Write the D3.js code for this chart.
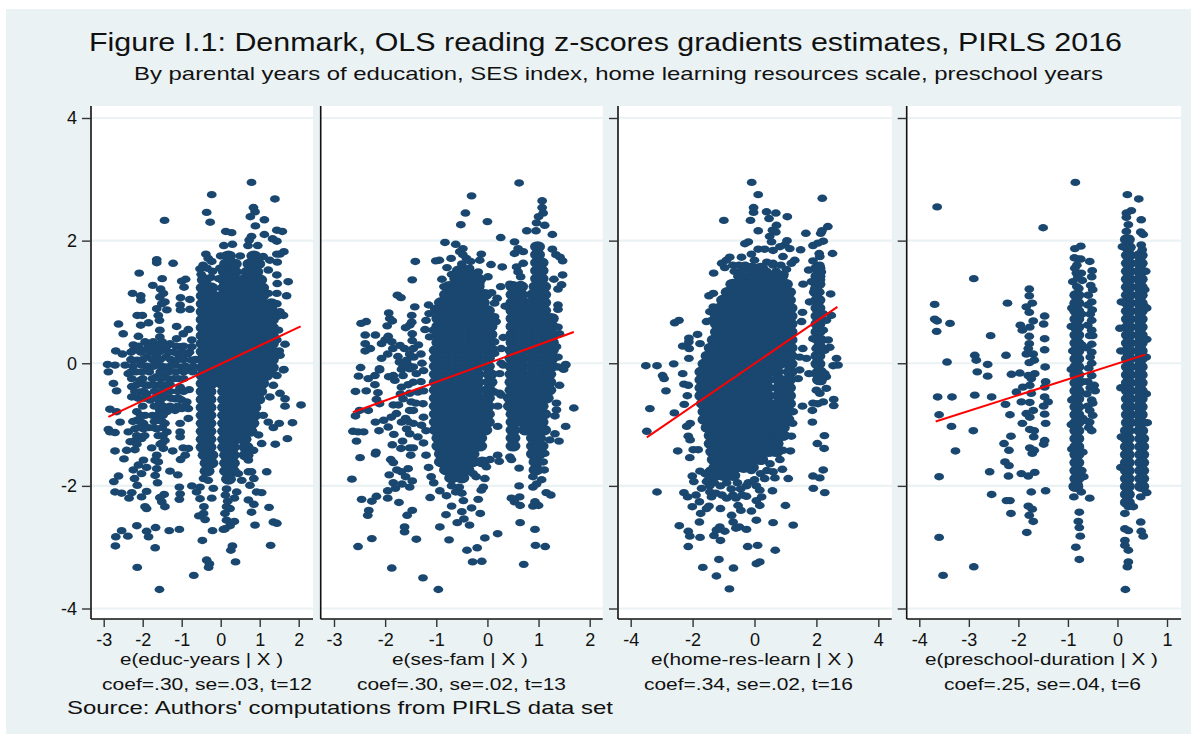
<!DOCTYPE html>
<html>
<head>
<meta charset="utf-8">
<script src="https://cdn.jsdelivr.net/npm/d3@7"></script>
<style>
  html, body { margin: 0; padding: 0; background: white; }
  text { font-family: "Liberation Sans", Arial, sans-serif; fill: #111; }
</style>
</head>
<body>
<div id="viz"></div>
<script>
// values: [x, y] for single dots
const educDots = [[.79,2.95],[-.23,2.75],[1.39,2.68],[.84,2.54],[.88,2.47],[.76,2.39],[-.36,2.46],[-.27,2.3],[-1.44,2.33],[1.12,2.34],[.89,2.24],[.13,2.15],[.28,2.13],[1.44,2.17],[1.58,2.15],[1.12,2.1],[1.33,2.03],[1.44,1.99],[.79,2.07],[.73,2.01],[.08,1.92],[.3,1.94],[.7,1.92],[.95,1.92],[-.38,1.78],[-.32,1.71],[-1.64,1.69],[-1.64,1.64],[-1.22,1.63],[-.23,1.66],[1.45,1.65],[1.09,1.74],[1.26,1.68],[-.53,1.54],[-.21,1.5],[-2.09,1.47],[-1.5,1.38],[-1,1.34],[-.9,1.37],[-.94,1.24],[-1.74,1.27],[-1.54,1.21],[-2.26,1.14],[-2.05,1.1],[-2.05,1.03],[-1.47,1.14],[-1.56,1.08],[-1.43,1],[-1.51,.97],[-1.03,1.07],[-.79,1.04],[-1.04,.95],[-.79,.88],[-1.03,.87],[-1.38,.87],[-1.64,.89],[-2.14,.78],[-2.01,.78],[-1.6,.78],[-1.57,.7],[-2.62,.64],[-2.05,.62],[-1.85,.66],[-2.5,.48],[-1.13,.6],[-.83,.55],[-.96,.48],[-1.56,.54],[-2.11,.44],[-1.56,.43],[-.74,.38],[-1.13,.4],[-1.94,.35],[-2.24,.3],[-1.73,.35],[-1.5,.35],[-1.3,.32],[-1.04,.27],[-.74,.27],[-2.69,.2],[-2.52,.15],[-2.24,.21],[-1.98,.21],[-1.73,.24],[-1.5,.21],[-1.09,.15],[-2.15,.05],[-1.9,.1],[-1.65,.12],[-1.4,.1],[-.85,.15],[-.75,.05],
[-2.9,-.02],[-2.88,-.14],[-2.71,-.03],[-2.45,-.03],[-2.37,-.17],[-2.75,-.33],[-2.67,-.45],[-2.28,-.38],[-2.28,-.55],[-2.17,-.14],[-2.03,-.03],[-1.81,-.06],[-1.64,-.03],[-1.43,-.06],[-1.17,-.03],[-1,-.06],[-.83,-.11],[-2.07,-.28],[-1.85,-.36],[-1.64,-.22],[-1.47,-.19],[-1.6,-.36],[-1.43,-.36],[-1.09,-.25],[-1.04,-.39],[-.81,-.43],[-2.07,-.47],[-1.9,-.5],[-1.56,-.5],[-1.43,-.55],[-1.81,-.6],[-1.56,-.63],[-1.17,-.58],[-1,-.6],[-.87,-.63],[-2.84,-.75],[-2.67,-.79],[-2.58,-.96],[-2.15,-.79],[-1.94,-.85],[-1.56,-.77],[-1.38,-.79],[-1.17,-.77],[-1,-.74],[-.83,-.74],[-.83,-.9],[-2.15,-.93],[-1.98,-.98],[-1.56,-.93],[-1.43,-.98],[-1.04,-.98],[-2.88,-1.08],[-2.84,-1.12],[-2.71,-1.13],[-2.37,-1.12],[-2.2,-1.07],[-1.98,-1.07],[-1.64,-1.07],[-1.38,-1.12],[-1.04,-1.12],[-1.04,-1.2],[-2.03,-1.23],[-2.2,-1.26],[-2.32,-1.28],[-1.43,-1.26],[-2.71,-1.43],[-2.41,-1.42],[-2.2,-1.41],[-2.48,-1.56],[-1.77,-1.38],[-1.47,-1.39],[-1.23,-1.43],[-.96,-1.38],[-.83,-1.39],[-.91,-1.5],[-1.03,-1.57],[-1.64,-1.5],[-1.68,-1.58],[-1.6,-1.61],[-1.98,-1.58],[-2.11,-1.66],[-2.24,-1.74],[-1.9,-1.7],[-1.64,-1.72],[-2.62,-1.84],[-2.74,-1.93],[-2.21,-1.88],[-2.14,-1.99],[-2.03,-1.8],[-1.68,-1.83],[-1.62,-1.95],[-1.3,-1.76],[-1.1,-1.82],[-.74,-2],[-1.06,-2.02],[-2.71,-2.1],[-2.54,-2.12],[-2.28,-2.11],[-2.35,-2.2],[-2.03,-2.18],[-1.9,-2.09],[-1.45,-2.14],[-1.56,-2.19],[-1.51,-2.26],[-1.04,-2.13],[-1.06,-2.22],[-1.43,-2.34],[-1.9,-2.37],[-1.94,-2.34],[-.44,-1.88],[-.32,-1.91],[-.53,-2.02],[-.19,-2.04],[-.62,-2.1],[-.53,-2.21],[-.23,-2.2],[-.43,-2.34],[-.44,-2.45],[-.56,-2.49],[-.4,-2.55],[.54,-1.91],[.75,-1.99],[.92,-2.1],[1.05,-2.11],[.41,-2.1],[.35,-2.2],[.71,-2.23],[.85,-2.3],[1.24,-2.35],[.79,-2.43],[1.18,-1.77],[.71,-1.77],[.79,-1.77],[.85,-1.88],[.15,-2.05],[.12,-2.15],[.18,-2.25],[.15,-2.34],[.24,-2.37],[.11,-2.45],[.15,-2.56],[.11,-2.7],[.35,-2.58],[.24,-2.65],[.07,-2.71],[.45,-1.8],[-2.15,-2.65],[-2.54,-2.73],[-2.69,-2.83],[-2.38,-2.82],[-1.9,-2.74],[-1.85,-2.83],[-1.67,-2.68],[-1.32,-2.73],[-1.06,-2.71],[-.21,-2.73],[-.47,-2.89],[.88,-2.64],[1.35,-2.59],[1.44,-2.61],[-2.7,-2.98],[-1.68,-3.01],[.3,-2.98],[.26,-3.05],[1.28,-2.97],[-.36,-3.21],[-.29,-3.27],[-.31,-3.33],[.38,-3.24],[-2.14,-3.33],[-.69,-3.46],[-1.57,-3.69],
[1.61,-.11],[1.44,-.2],[1.35,-.36],[1.52,-.49],[1.65,-.58],[1.65,-.7],[2.06,-.68],[1.26,-.55],[1.3,-.17],[1.09,-.85],[1.22,-.96],[1.35,-1.05],[1.5,-.98],[1.84,-.97],[1.71,-1.23],[1.4,-1.32],[1.05,-1.31],[.97,-1.17],[.84,-1.42],[.71,-1.58],[.67,-1.52],[1.62,1.82],[1.52,1.78],[1.44,1.78],[1.22,1.52],[1.44,1.44],[1.45,1.3],[1.73,1.33],[1.69,1.1],[1.44,1.14],[1.22,1.14],[1.44,.97],[1.52,.84],[1.61,.78],[1.44,.76],[1.48,.54],[1.65,.31],[1.52,.13],[1.62,-.1],[1.44,.38],[1.5,.2],
[-2.1,.28],[-1.85,.28],[-1.62,.28],[-1.38,.28],[-1.15,.28],[-.95,.28],[-2.3,.18],[-2.05,.18],[-1.8,.18],[-1.58,.18],[-1.33,.18],[-1.2,.18],[-.98,.18],[-.8,.18],[-2.3,.06],[-2,.06],[-1.75,.06],[-1.55,.06],[-1.28,.06],[-1.1,.06],[-.95,.06],[-.65,.06],[-2.25,-.05],[-1.9,-.05],[-1.73,-.05],[-1.52,-.05],[-1.3,-.05],[-.9,-.05],[-.7,-.05],[-2.3,-.14],[-2.02,-.14],[-1.83,-.14],[-1.55,-.14],[-1.33,-.14],[-1.15,-.14],[-.95,-.14],[-.72,-.14],[-2.28,-.25],[-2,-.25],[-1.75,-.25],[-1.55,-.25],[-1.35,-.25],[-1.2,-.25],[-.95,-.25],[-2.15,-.35],[-1.95,-.35],[-1.72,-.35],[-1.5,-.35],[-1.3,-.35],[-2.2,-.46],[-1.97,-.46],[-1.7,-.46],[-1.5,-.46],[-1.3,-.46],[-1.1,-.46],[-.95,-.46],[-2.12,-.57],[-1.95,-.57],[-1.68,-.57],[-1.5,-.57],[-1.28,-.57],[-1.08,-.57],[-2,-.7],[-1.7,-.7],[-1.48,-.7],[-1.3,-.7],[-1.1,-.7],[-.9,-.7],[-2.05,-.85],[-1.75,-.85],[-1.62,-.85],[-1.48,-.85],[-2.25,-.95],[-2.05,-.95],[-1.7,-.95],[-1.5,-.95],[-2.1,-1.05],[-1.85,-1.05],[-1.72,-1.05],[-1.5,-1.05],[-2.15,-1.18],[-1.95,-1.18],[-1.6,-1.18],[-1.48,-1.18],[-1.55,-1.32],[-1.5,-1.3],[-2.15,-1.32],
[-.5,1.45],[-.45,1.6],[-.35,1.55],[-.25,1.4],[-.3,1.25],[-.05,1.38],[-.02,1.55],[.0,1.75],[.5,1.75]];
// rows of overlapping dots in the dense part: [y, x, x, ...]
const educCore = [[1.75,.2,.85],[1.62,.15,.35,.75,.95],[1.49,.12,.35,.7,.9],[1.36,-.42,.1,.35,.6,.85,1],[1.23,-.45,-.25,.1,.35,.6,.85,1.05],[1.1,-.45,-.2,.05,.3,.55,.8,1.05],[.97,-.45,-.2,.05,.3,.55,.8,1.05,1.3],[.84,-.45,-.2,.05,.3,.55,.8,1.05,1.3],[.71,-.45,-.2,.05,.3,.55,.8,1.05,1.3],[.58,-.45,-.2,.05,.3,.55,.8,1.05,1.3],[.45,-.45,-.2,.05,.3,.55,.8,1.05,1.3],[.32,-.45,-.2,.05,.3,.55,.8,1.05,1.3],[.19,-.45,-.2,.05,.3,.55,.8,1.05,1.3],[.06,-.45,-.2,.05,.3,.55,.8,1.05,1.3],[-.07,-.45,-.2,.05,.3,.55,.8,1.05,1.3],[-.2,-.45,-.2,.05,.3,.55,.8,1.05,1.15],[-.33,-.45,-.25,.05,.3,.55,.8,1.05],[-.46,-.45,-.3,.1,.35,.6,.85,1],[-.59,-.45,-.3,.1,.35,.6,.85,.95],[-.72,-.45,-.3,.1,.35,.6,.85],[-.85,-.45,-.3,.1,.35,.6,.85],[-.98,-.45,-.3,.1,.35,.6,.8],[-1.11,-.45,-.3,.1,.35,.6,.75],[-1.24,-.45,-.3,.1,.35,.6],[-1.37,-.45,-.3,.1,.3,.65],[-1.5,-.4,-.25,.15,.3,.65],[-1.63,-.35,-.25,.15,.3],[-1.76,-.35,.15,.3],[-1.89,.2]];

const sesDots = [[.62,2.94],[-.31,2.73],[1.07,2.65],[1.07,2.54],[1.09,2.45],[1,2.39],[-.43,2.45],[0,2.31],[-.52,2.26],[.96,2.29],[1.12,2.25],[.77,2.16],[.26,2.05],[1.27,2.1],[.95,2.16],[-.83,1.97],[.53,1.98],[-.62,1.94],[-.48,1.87],[.6,1.87],[1.27,1.86],[.7,1.82],[.53,1.79],[-.54,1.82],[-.48,1.77],[-.12,1.78],[-.15,1.68],[-.41,1.71],[1.34,1.77],[1.42,1.73],[1.47,1.67],[-1.41,1.66],[-1.01,1.67],[-.94,1.68],[-.71,1.71],[-.33,1.66],[.07,1.61],[.29,1.57],[-.79,1.56],[.7,1.63],[.57,1.57],[-.18,1.49],[.6,1.49],[1.47,1.44],[.01,1.41],[-1.47,1.36],[-.89,1.37],[1.3,1.37],[-.12,1.36],[.65,1.41],[.44,1.29],[.26,1.25],[.65,1.28],[1.45,1.28],[1.38,1.21],[.08,1.15],[-1.76,1.11],[-1.69,1.07],[.19,1.06],[.14,.98],[-1.42,.92],[.35,.93],[1.38,.95],[1.38,.88],[-1.93,.82],[-1.91,.73],[-1.86,.69],[-1.48,.78],[-2.37,.68],[-2.47,.65],[-1.96,.61],[-1.48,.67],[-1.6,.58],[-1.52,.62],[-1.14,.81],[-1.03,.89],[-2.19,.46],[-2.39,.46],[-2.39,.32],[-2.29,.24],[-2.39,.2],[-1.94,.44],[-2.07,.32],[-2,.38],[-1.87,.35],[-1.85,.24],[-1.71,.29],[-1.62,.24],[-1.75,.11],[-2.07,.08],[-1.47,.48],[-1.47,.37],[-1.45,.24],[-1.52,.15],[-1.44,.1],[-2.48,-.07],[-2.11,-.09],[-1.55,-.03],[-1.45,-.06],[-1.68,-.1],[-1.13,.43],[-1.06,.54],[.14,.76],[.17,.68],[.14,.35],[.31,.42],[.11,.24],[.27,.24],[.14,.16],[.27,0],[1.38,.59],[1.41,.48],[1.35,.27],[1.38,.1],[1.53,-.03],[1.38,-.06],
[-2.52,-.21],[-2.33,-.25],[-2.2,-.2],[-2.11,-.11],[-2.2,-.35],[-2.58,-.46],[-2.37,-.45],[-2.14,-.48],[-2.17,-.59],[-2.11,-.66],[-1.93,-.22],[-1.84,-.2],[-1.81,-.28],[-1.65,-.06],[-1.52,-.09],[-1.39,-.17],[-1.45,-.31],[-1.68,-.39],[-1.52,-.49],[-1.36,-.47],[-1.65,-.58],[-1.49,-.63],[-1.84,-.68],[-1.74,-.68],[-2.5,-.77],[-2.58,-.86],[-2.33,-.77],[-1.52,-.77],[-1.45,-.77],[-2.19,-.96],[-2.03,-.93],[-1.88,-.88],[-1.78,-.82],[-1.94,-1.04],[-2.12,-1.1],[-2.63,-1.11],[-2.53,-1.12],[-2.42,-1.12],[-2.56,-1.27],[-1.68,-.96],[-1.58,-1.07],[-1.45,-.98],[-1.29,-1.01],[-1.25,-.88],[-1.26,-.66],[-1.83,-1.16],[-1.52,-1.15],[-1.36,-1.2],[-1.66,-1.27],[-1.86,-1.33],[-1.69,-1.39],[-1.52,-1.38],[-1.45,-1.38],[-1.5,-1.5],[-2.18,-1.45],[-2.19,-1.48],[-2.49,-1.54],[-1.89,-1.57],[-1.84,-1.62],[-1.77,-1.74],[-1.68,-1.77],[-1.55,-1.72],[-1.92,-1.82],[-1.6,-1.85],[-1.47,-1.92],[-1.84,-1.95],[-1.67,-1.97],[-1.52,-2.02],[-1.8,-2.04],[-1.95,-2.08],[-2.65,-1.89],[-2.46,-2.22],[-2.17,-2.17],[-2.26,-2.25],[-1.95,-2.2],[-1.73,-2.27],[-1.47,-2.4],[-1.57,-2.48],[-2.32,-2.4],[-2.34,-2.48],[-1.62,-2.67],[-1.62,-2.75],[-2.26,-2.86],[-2.53,-2.99],[-1.39,-2.87],[-1.87,-3.34],[-1.26,-3.5],[-.96,-3.69],[-1.12,-2.19],[-.93,-2.08],[-.8,-2.16],[-.7,-2.33],[-.81,-2.47],[-.93,-2.67],[-.75,-2.88],[-.59,-2.6],[-.46,-2.54],[-.35,-2.64],[-.5,-2.42],[-.47,-2.24],[-.31,-2.36],[-.14,-2.45],[-.18,-2.22],[-.05,-2.85],[.2,-2.78],[-.4,-3.05],[-.2,-3.01],[-.29,-3.24],[-.11,-3.23],[.71,-3.28],[.94,-2.97],[1.13,-2.99],[.93,-2.71],[.64,-2.6],[.64,-2.32],[.53,-2.26],[.47,-2.2],[.63,-2.18],[.89,-2.33],[1,-2.32],[.93,-2.26],[.62,-2],[.89,-2.02],[.96,-1.97],[1.15,-2.11],[1.24,-2.15],[.62,-1.71],[1.11,-1.74],[1.06,-1.9],[.89,-1.85],[.47,-1.57],[.2,-1.5],[.23,-1.6],[.05,-1.57],[-.08,-2.02],[-.05,-1.88],[-.02,-1.69],[-.22,-1.85],[-.12,-2.07],[-.22,-1.61],[-.28,-1.8],
[1.69,-.73],[1.53,-1.03],[1.4,-1.27],[1.32,-1.15],[1.35,-.65],[1.35,-.76],[1.32,-.86],[1.53,-.02],[1.49,-.1],[1.41,-.36],[1.22,-1.25],[1.12,-1.47],[1.09,-1.61],[.24,-.49],[.2,-.7],[.2,-1.03],[.14,-.47],[.27,-.52],[.31,-.03],[.24,-.17],[.44,-1.53],
[-1.95,.15],[-1.72,.02],[-1.58,.05],[-1.35,.3],[-1.3,.15],[-1.28,0],[-1.25,-.12],[-1.3,-.3],[-1.25,-.45],[-1.22,.55],[-1.2,.7],[-1.15,.95],[-1.65,-.2],[-1.55,-.35],[-1.7,-.5],[-1.4,-.65],[-1.6,-.9],[-1.55,-.95],[-1.25,-1.3],[-1.2,-1.1],[-1.2,-1.5],[-1.15,-1.7],[-1.1,-1.85],[-1.05,-1.95],[-.7,-2],[-.55,-2.02],[-.62,-2.1],[-.5,-2.12],[-.7,1.45],[-.5,1.62],[-.35,1.55],[-.25,1.45],[-.15,1.3],[-.85,1.25]];
const sesCore = [[1.9,.98],[1.77,.98],[1.64,.98,1.05],[1.51,-.55,-.4,.98,1.05],[1.38,-.6,-.45,-.3,-.2,.98,1.05],[1.25,-.75,-.55,-.35,-.2,.5,.65,.95,1.1],[1.12,-.8,-.6,-.4,-.2,-.05,.5,.65,.9,1.1],[.99,-.9,-.7,-.5,-.3,-.1,.5,.7,.9,1.1],[.86,-.95,-.75,-.55,-.35,-.15,0,.5,.7,.9,1.1],[.73,-.95,-.75,-.55,-.35,-.15,0,.5,.7,.9,1.1,1.25],[.6,-.95,-.75,-.55,-.35,-.15,.05,.5,.7,.9,1.1,1.25],[.47,-.95,-.75,-.55,-.35,-.15,.05,.5,.7,.9,1.1,1.25],[.34,-.95,-.75,-.55,-.35,-.15,0,.5,.7,.9,1.1,1.25],[.21,-1,-.8,-.6,-.4,-.2,0,.48,.68,.88,1.08,1.25],[.08,-1,-.8,-.6,-.4,-.2,0,.48,.68,.88,1.08,1.25],[-.05,-1,-.8,-.6,-.4,-.2,0,.48,.68,.88,1.08,1.25],[-.18,-1,-.8,-.6,-.4,-.2,.05,.48,.68,.88,1.08,1.2],[-.31,-1,-.8,-.6,-.4,-.2,.05,.48,.68,.88,1.08,1.2],[-.44,-1,-.8,-.6,-.4,-.2,.02,.48,.68,.88,1.08,1.2],[-.57,-1,-.8,-.6,-.4,-.2,0,.45,.65,.85,1.05,1.15],[-.7,-1,-.8,-.6,-.4,-.2,0,.45,.65,.85,1.05],[-.83,-1,-.8,-.6,-.4,-.2,0,.5,.7,.9,1.1],[-.96,-1,-.8,-.6,-.4,-.2,0,.5,.7,.9,1.05],[-1.09,-1,-.8,-.6,-.4,-.2,-.05,.5,.75,.95,1.1],[-1.22,-.95,-.75,-.55,-.35,-.15,.5,.9,1],[-1.35,-.95,-.75,-.55,-.35,-.15,.5,.9,1.05],[-1.48,-.9,-.7,-.5,-.3,.9,1],[-1.61,-.9,-.7,-.5,-.3,-.1,.95],[-1.74,-.8,-.6,-.4,.95],[-1.87,-.7,-.5]];

const homeDots = [[-.09,2.95],[.12,2.75],[2.19,2.69],[-.03,2.54],[-.03,2.46],[.39,2.47],[.69,2.45],[1.06,2.39],[.47,2.36],[-.13,2.33],[-.99,2.33],[.71,2.25],[.58,2.17],[.69,2.14],[.12,2.16],[2.37,2.23],[2.18,2.16],[2.14,2.12],[1.66,2.12],[.49,2.07],[.55,1.98],[1.05,2],[2.22,1.99],[2.05,1.96],[1.89,1.92],[-.2,1.98],[-.31,1.95],[.98,1.93],[.12,1.86],[.33,1.86],[.6,1.84],[.82,1.9],[1.14,1.87],[1.49,1.85],[2.52,1.79],[2.09,1.79],[2.11,1.74],[1.89,1.67],[-.1,1.78],[-.42,1.73],[-.8,1.73],[-.91,1.68],[-1.06,1.63],[-.96,1.56],[-1.32,1.47],[.92,1.74],[1.3,1.68],[1.19,1.63],[.6,1.63],[1.03,1.53],[2.11,1.6],[1.75,1.52],[2.16,1.49],[1.84,1.33],[2.13,1.36],[1.57,1.29],[1.95,1.22],[2.11,1.16],[2.46,1.13],[-1.47,1.1],[-1.33,1.14],[1.78,1],[2.11,1.03],[2.05,.95],[-1.33,.92],[-1.44,.84],[1.55,.83],[-2.44,.7],[-2.58,.66],[-1.55,.68],[-1.39,.7],[2.22,.81],[2.48,.78],[2.32,.7],[1.52,.68],[-1.84,.47],[-2.12,.41],[-2.12,.35],[-2.32,.28],[-2.11,.24],[-1.76,.32],[2.38,.38],[2.43,.26],[2.27,.21],[2.22,.54],[1.89,.4],[2.05,.38],[1.99,.24],[1.56,.24],[1.68,.08],[1.46,.1],[-2.12,.08],[-2.61,-.01],[-3.51,-.04],[-3.15,-.04],[2.65,.08],[2.54,-.04],[2.7,-.03],[2.05,.1],[2.05,-.03],
[-2.97,-.2],[-2.92,-.25],[-2.32,-.17],[-2.28,-.34],[-2.14,-.36],[-2.86,-.45],[-2.17,-.53],[-2.27,-.67],[-3.38,-.74],[-2.59,-.81],[-3.48,-1.11],[-2.19,-1.03],[-2.08,-.98],[-2.14,-1.19],[-2.08,-1.25],[-2.48,-1.43],[-2.09,-1.54],[-1.98,-1.41],[-1.82,-1.41],[-2.01,-1.84],[-1.76,-1.76],[-1.96,-1.93],[-3.15,-2.1],[-2.28,-2.11],[-2.16,-2.18],[-1.89,-2.15],[-1.78,-2.26],[-2.01,-2.34],[-1.47,-2.33],[-1.55,-2.37],[-1.74,-2.45],[-1.1,-2.37],[-1.71,-2.04],[-1.44,-2.1],[-1.39,-2.18],[-2.43,-2.65],[-1.78,-2.59],[-2.14,-2.74],[-2.09,-2.82],[-1.76,-2.84],[-2.14,-2.99],[-1.31,-2.81],[-1.23,-2.72],[-1.12,-2.67],[-.96,-2.74],[-1.1,-2.89],[-.74,-2.48],[-.69,-2.59],[-.6,-2.69],[-.49,-2.67],[-.26,-2.71],[-.44,-2.4],[-.1,-2.41],[-.53,-2.32],[.06,-2.56],[.6,-2.6],[1.25,-2.64],[-.22,-2.99],[.1,-2.97],[.67,-3.05],[-1.15,-3.2],[-1.67,-3.33],[-.68,-3.34],[-1.23,-3.47],[-.81,-3.68],[.06,-3.27],[.17,-3.24],[1,-2.32],[.17,-2.32],[.23,-2.18],[.06,-2.24],[.06,-2],[.17,-2.07],[-.26,-2],[-.26,-2.17],[.58,-2.08],[.33,-1.88],[.66,-1.87],[1.09,-1.88],[.9,-1.73],[.6,-1.77],[1.89,-1.84],[2.11,-1.87],[2.22,-1.74],[1.9,-2.04],[2.27,-2.11],[1.16,-1.43],[.92,-1.42],[.82,-1.57],[.5,-1.64],[2.03,-1.31],[2.25,-1.39],[2.26,-1.18],[1.87,-.96],[1.87,-.77],[1.55,-.7],[1.89,-.65],[2.05,-.66],[2.22,-.63],[2.56,-.59],[2.56,-.69],[2.11,-.49],[2.32,-.41],[2,-.44],[2.32,-.22],[2.27,-.17],[1.95,-.17],[2.16,-.3],[1.76,-.17],[1.41,-.25],[1.46,-.11],[1.25,-.79],[1.23,-.98],[1.19,-1.19],[1.03,-1.18],
[-.7,1.6],[-.5,1.6],[-.3,1.6],[0,1.68],[.4,1.65],[.6,1.6],[.85,1.6],[-.65,1.5],[-.4,1.52],[.4,1.5],[.7,1.5],[.95,1.45],[-1.3,-1.95],[-1.1,-2],[-.9,-1.95],[-.75,-2.05],[-.55,-1.95],[-.45,-2.05],[-.7,-2.15],[-1.25,-2.12],[-1.05,-2.15],[-.9,-2.2],[-.6,-2.2],[-.4,-2.15],[-1.45,-2],[-1.55,-1.93],[-.2,-1.95],[0,-1.9],[.2,-1.8],[.4,-1.75],[-.1,-1.75],[-1.6,-1.8],[-1.45,-1.75],[-1.5,-1.9]];
const homeCore = [[1.55,-.1,.2,2.05],[1.42,-.45,-.1,.2,.5,.85,2.05],[1.29,-.7,-.4,-.1,.2,.5,.8,1,2.05],[1.16,-.85,-.55,-.25,.05,.35,.65,.95,1.1,2],[1.03,-1,-.7,-.4,-.1,.2,.5,.8,1.1,2.05],[.9,-1.1,-.8,-.5,-.2,.1,.4,.7,1,1.15,2.05],[.77,-1.2,-.9,-.6,-.3,0,.3,.6,.9,1.15,2.05],[.64,-1.2,-.9,-.6,-.3,0,.3,.6,.9,1.15,2.05],[.51,-1.2,-.9,-.6,-.3,0,.3,.6,.9,1.15,2.05],[.38,-1.3,-1,-.7,-.4,-.1,.2,.5,.8,1.15,2.1],[.25,-1.4,-1.1,-.8,-.5,-.2,.1,.4,.7,1,1.15,2.1],[.12,-1.5,-1.2,-.9,-.6,-.3,0,.3,.6,.9,1.15,2.05],[-.01,-1.6,-1.3,-1,-.7,-.4,-.1,.2,.5,.8,1.15,2.05],[-.14,-1.7,-1.4,-1.1,-.8,-.5,-.2,.1,.4,.7,1.15,2.1],[-.27,-1.7,-1.4,-1.1,-.8,-.5,-.2,.1,.4,.8,1.1,2.1],[-.4,-1.7,-1.4,-1.1,-.8,-.5,-.2,.1,.4,.8,1.1],[-.53,-1.7,-1.4,-1.1,-.8,-.5,-.2,.1,.4,.8,1.1],[-.66,-1.65,-1.35,-1.05,-.75,-.45,-.15,.15,.45,.8,1.1],[-.79,-1.6,-1.3,-1,-.7,-.4,-.1,.2,.5,.8,1.05],[-.92,-1.6,-1.3,-1,-.7,-.4,-.1,.2,.5,.8,1.05],[-1.05,-1.5,-1.2,-.9,-.6,-.3,0,.3,.6,.9],[-1.18,-1.4,-1.1,-.8,-.5,-.2,.1,.4,.7,.9],[-1.31,-1.4,-1.1,-.8,-.5,-.2,.1,.4,.7],[-1.44,-1.35,-1.05,-.75,-.45,-.15,.15,.45,.7],[-1.57,-1.3,-1,-.7,-.4,-.1,.2],[-1.7,-1.25,-.95,-.65,-.35,-.1],[-1.83,-1.3,-1,-.7]];

const preDots = [[-.85,2.95],[.2,2.75],[.43,2.68],[-3.64,2.55],[-1.5,2.21],[.28,2.49],[.18,2.45],[.18,2.38],[.48,2.34],[.22,2.26],[.18,2.15],[.47,2.14],[.52,2.1],[-.74,1.91],[-.86,1.87],[.48,1.93],[-.87,1.72],[-.74,1.7],[-.56,1.66],[-.51,1.51],[-.86,1.55],[-.83,1.47],[-.73,1.47],[-.52,1.41],[-2.9,1.38],[-.9,1.33],[-.71,1.35],[-.54,1.27],[-.78,1.22],[-1.78,1.21],[-1.78,1.1],[-.59,1.11],[-3.69,.96],[-2.22,.98],[-1.72,.98],[-1.84,.92],[-1.78,.83],[-.52,1],[-.51,.87],[-1.47,.77],[-3.69,.72],[-3.64,.69],[-3.38,.65],[-1.7,.69],[-1.49,.64],[-3.65,.52],[-1.96,.62],[-1.77,.59],[-1.92,.54],[-.52,.7],[-.52,.54],[-2.56,.45],[-1.78,.44],[-1.47,.4],[-1.78,.32],[-.52,.31],[-.52,.18],[-1.47,.22],[-1.8,.24],[-1.84,.15],[-1.7,.15],[-2.88,.13],[-2.25,.13],[-2.85,.05],[-3.44,.02],[-2.62,-.02],[-1.78,.01],[-1.68,.05],[-.52,0],[-1.46,-.06],[-2.83,-.14],[-2.62,-.21],[-2.14,-.18],[-1.97,-.16],[-1.8,-.2],[-1.67,-.17],[-1.74,-.25],[-1.45,-.3],[-1.47,-.39],[-2.04,-.47],[-1.91,-.39],[-1.77,-.36],[-1.74,-.49],[-3.63,-.55],[-3.34,-.55],[-2.88,-.52],[-2.54,-.55],[-2.26,-.67],[-1.94,-.63],[-1.77,-.64],[-1.47,-.55],[-1.4,-.63],[-1.49,-.7],[-3.6,-.84],[-2.17,-.84],[-1.7,-.77],[-1.84,-.82],[-1.77,-.88],[-1.47,-.83],[-3.35,-1.03],[-2.91,-1.1],[-1.92,-.98],[-1.45,-.98],[-1.77,-1.08],[-1.68,-1.1],[-2.15,-1.19],[-1.69,-1.2],[-2.29,-1.31],[-1.47,-1.26],[-1.49,-1.32],[-3.27,-1.43],[-2.19,-1.42],[-1.77,-1.38],[-1.68,-1.42],[-1.72,-1.47],[-2.27,-1.61],[-2.19,-1.67],[-2.58,-1.77],[-3.6,-1.85],[-2.2,-1.84],[-1.94,-1.8],[-1.8,-1.84],[-1.67,-1.78],[-1.74,-2.1],[-1.45,-2.08],[-2.54,-2.14],[-2.24,-2.24],[-2.17,-2.24],[-1.8,-2.33],[-1.72,-2.38],[-2.15,-2.45],[-1.78,-2.48],[-1.7,-2.58],[-1.83,-2.76],[-3.6,-2.84],[-2.9,-3.32],[-3.52,-3.46],
[-.77,-2.43],[-.79,-2.58],[-.77,-2.68],[-.75,-2.82],[-.84,-3],[-.77,-3.2],[-.56,-2.2],[-.73,-2.1],[-.88,-2.18],[-.86,-2.02],[.16,-3.69],[.22,-3.24],[.2,-3.32],[.15,-2.89],[.22,-3.05],[.15,-2.97],[.47,-2.59],[.48,-2.74],[.52,-2.82],[.15,-2.7],[.22,-2.73],[.15,-2.45],[.22,-2.34],[.32,-2.34],[.47,-2.18],[.59,-2.11],[.6,-.97],[.59,.39],[.55,1.2],[.55,.92],[.05,.57],[.07,-1.7],
[-.47,-.36],[-.52,-.2],[-.58,-.08],[-.45,-.45],[-.52,-.6],[-.56,-.77],[-.5,-.65],[-.56,-.96],[-.52,-1.1],[-.6,-.3],[-.6,.62],[-.62,.25],[-.6,.95],[-.62,-.5],
[-.8,1.7],[-.82,1.6],[-.8,1.4],[-.82,1.25],[-.92,.9],[-.93,.6],[-.9,.2],[-.93,-.1],[-.92,-.6],[-.93,-1],[-.92,-1.4],[-.72,.8],[-.72,.3],[-.7,-.3],[-.7,-.9],[-.7,-1.45],[-.72,-1.75],[-.68,-1.85],[-.8,-1.97],[-.5,1.2],[-.55,.8],[-.5,.45],[-.55,.1],[-.56,.45],[-.5,-.85],[-.55,-.4],[-.6,-.7],[-.6,-.95],[-.58,-1.05],[.07,.2],[.07,-.4],[.08,1],[.08,-1.2],[.59,.9],[.58,.1],[.58,-.5],[.57,1.5],[.1,1.9],[.5,1.85]];
const preCore = [[2.02,.2],[1.89,.22],[1.76,.22,.46],[1.63,.22,.46],[1.5,.22,.46],[1.37,.22,.46],[1.24,.22,.46],[1.11,.22,.46,-.82],[.98,.22,.46,-.82],[.85,.22,.46,-.82],[.72,.22,.46,-.82],[.59,.22,.46,-.82],[.46,.22,.46,-.82],[.33,.22,.46,-.82],[.2,.22,.46,-.82],[.07,.22,.46,-.82],[-.06,.22,.46,-.82],[-.19,.22,.46,-.82],[-.32,.22,.46,-.82],[-.45,.22,.46,-.82],[-.58,.22,.46,-.82],[-.71,.22,.46,-.82],[-.84,.22,.46,-.82],[-.97,.22,.46,-.82],[-1.1,.2,.47,-.82],[-1.23,.2,.49,-.82],[-1.36,.2,.49,-.82],[-1.49,.2,.49,-.82],[-1.62,.2,.49,-.82],[-1.75,.2,.49,-.82],[-1.88,.2,.49,-.82],[-2.01,.2,.49,-.84],[-2.14,.2],[-2.27,.2]];

// fitted lines: two ends, [x0, y0, x1, y1]
const educFit = [-2.88, -.875, 2.05, .6];
const sesFit = [-2.63, -.8, 1.69, .51];
const homeFit = [-3.48, -1.21, 2.68, .92];
const preFit = [-3.67, -.95, .565, .14];

const yTicks = [-4, -2, 0, 2, 4];
const educTicks = [-3, -2, -1, 0, 1, 2];
const sesTicks = [-3, -2, -1, 0, 1, 2];
const homeTicks = [-4, -2, 0, 2, 4];
const preTicks = [-4, -3, -2, -1, 0, 1];
const xLabels = ["e(educ-years | X )", "e(ses-fam | X )", "e(home-res-learn | X )", "e(preschool-duration | X )"];
const notes = ["coef=.30, se=.03, t=12", "coef=.30, se=.02, t=13", "coef=.34, se=.02, t=16", "coef=.25, se=.04, t=6"];

let w = 1191;
let h = 734;
let plotTop = 106;
let plotBottom = 619;
let navy = "#1a476f";
let bg = "#eaf2f3";

let viz = d3.select("#viz")
  .append("svg")
  .attr("width", w)
  .attr("height", h)
  .style("display", "block");

viz.append("rect")
  .attr("x", 6).attr("y", 9)
  .attr("width", w - 6).attr("height", h - 9)
  .attr("fill", bg);

// the reference's text is squeezed sideways, so fix the width of every line
function stretched(sel, len) {
  return sel.attr("textLength", len).attr("lengthAdjust", "spacingAndGlyphs");
}

stretched(viz.append("text").attr("x", 89).attr("y", 51).attr("font-size", 26)
  .text("Figure I.1: Denmark, OLS reading z-scores gradients estimates, PIRLS 2016"), 1033);
stretched(viz.append("text").attr("x", 134).attr("y", 80).attr("font-size", 19)
  .text("By parental years of education, SES index, home learning resources scale, preschool years"), 969);
stretched(viz.append("text").attr("x", 67).attr("y", 714).attr("font-size", 19)
  .text("Source: Authors' computations from PIRLS data set"), 546);

let yScale = d3.scaleLinear().domain([-4, 4]).range([608.5, 118]);

// left edge, right edge, first and last tick pixel for every panel
let panels = [
  { dots: educDots, core: educCore, fit: educFit, ticks: educTicks, left: 91, right: 313, t0: 103.7, t1: 298.7, yAxis: "labels", labelX: 120, labelLen: 163, noteX: 102, noteLen: 210 },
  { dots: sesDots, core: sesCore, fit: sesFit, ticks: sesTicks, left: 320.7, right: 602.7, t0: 334, t1: 589.7, yAxis: "none", labelX: 392, labelLen: 136, noteX: 357, noteLen: 209 },
  { dots: homeDots, core: homeCore, fit: homeFit, ticks: homeTicks, left: 618, right: 891.7, t0: 630.7, t1: 878.3, yAxis: "ticks", labelX: 651, labelLen: 203, noteX: 644, noteLen: 209 },
  { dots: preDots, core: preCore, fit: preFit, ticks: preTicks, left: 906.7, right: 1181, t0: 919.3, t1: 1167, yAxis: "ticks", labelX: 925, labelLen: 233, noteX: 944, noteLen: 197 }
];

panels.forEach((p, i) => {
  let xScale = d3.scaleLinear()
    .domain([p.ticks[0], p.ticks[p.ticks.length - 1]])
    .range([p.t0, p.t1]);

  let g = viz.append("g").attr("class", "panel");

  g.append("rect")
    .attr("x", p.left).attr("y", plotTop)
    .attr("width", p.right - p.left).attr("height", plotBottom - plotTop)
    .attr("fill", "white");

  g.selectAll("line.grid")
    .data(yTicks)
    .join("line")
    .attr("class", "grid")
    .attr("x1", p.left).attr("x2", p.right)
    .attr("y1", d => yScale(d)).attr("y2", d => yScale(d))
    .attr("stroke", bg)
    .attr("stroke-width", 2.2);

  // dense rows first, wider marks so the mass closes up
  let corePoints = p.core.flatMap(r => r.slice(1).map(x => [x, r[0]]));
  g.selectAll("ellipse.core")
    .data(corePoints)
    .join("ellipse")
    .attr("class", "core")
    .attr("cx", d => xScale(d[0]))
    .attr("cy", d => yScale(d[1]))
    .attr("rx", 7.5)
    .attr("ry", 5.5)
    .attr("fill", navy);

  g.selectAll("ellipse.dot")
    .data(p.dots)
    .join("ellipse")
    .attr("class", "dot")
    .attr("cx", d => xScale(d[0]))
    .attr("cy", d => yScale(d[1]))
    .attr("rx", 4.9)
    .attr("ry", 3.7)
    .attr("fill", navy);

  g.append("line")
    .attr("x1", xScale(p.fit[0])).attr("y1", yScale(p.fit[1]))
    .attr("x2", xScale(p.fit[2])).attr("y2", yScale(p.fit[3]))
    .attr("stroke", "#ff0000")
    .attr("stroke-width", 2);

  // axes, plain hyphen in the tick labels like the reference
  let xAxis = g.append("g")
    .attr("transform", `translate(0, ${plotBottom})`)
    .call(d3.axisBottom(xScale).tickValues(p.ticks).tickSize(8).tickPadding(6).tickFormat(d => String(d)));
  xAxis.select(".domain")
    .attr("d", `M${p.left},0H${p.right}`)
    .attr("stroke", "#111").attr("stroke-width", 1.6);
  xAxis.selectAll(".tick line").attr("stroke", "#333").attr("stroke-width", 1.4);
  xAxis.selectAll("text").attr("font-size", 18).style("fill", "#111");

  let yAxisG = g.append("g")
    .attr("transform", `translate(${p.left}, 0)`)
    .call(d3.axisLeft(yScale).tickValues(yTicks).tickSize(p.yAxis == "none" ? 0 : 9).tickPadding(5).tickFormat(d => String(d)));
  yAxisG.select(".domain")
    .attr("d", `M0,${plotTop}V${plotBottom}`)
    .attr("stroke", "#111").attr("stroke-width", 1.6);
  yAxisG.selectAll(".tick line").attr("stroke", "#333").attr("stroke-width", 1.4);
  if (p.yAxis == "labels") {
    yAxisG.selectAll("text").attr("font-size", 18).style("fill", "#111");
  } else {
    yAxisG.selectAll("text").remove();
  }

  // x title and coefficient note
  stretched(g.append("text").attr("x", p.labelX).attr("y", 664.5).attr("font-size", 17).text(xLabels[i]), p.labelLen);
  stretched(g.append("text").attr("x", p.noteX).attr("y", 690).attr("font-size", 17).text(notes[i]), p.noteLen);
});
</script>
</body>
</html>
